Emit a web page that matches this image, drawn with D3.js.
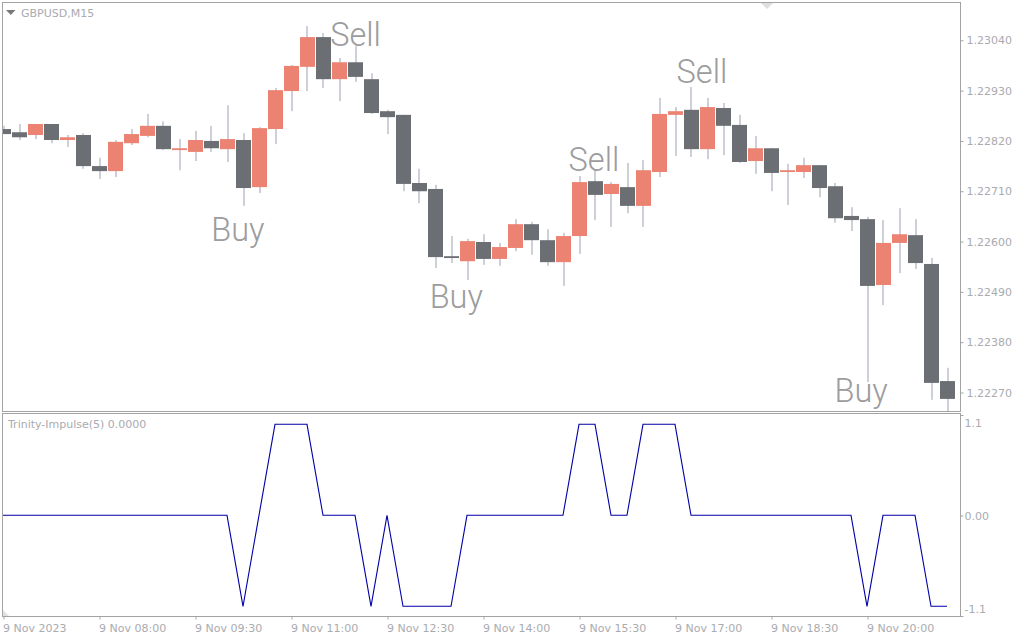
<!DOCTYPE html>
<html><head><meta charset="utf-8">
<script src="https://cdnjs.cloudflare.com/ajax/libs/d3/7.8.5/d3.min.js"></script>
<style>html,body{margin:0;padding:0;background:#fff;overflow:hidden}svg{display:block}</style>
</head><body><svg id="c" width="1024" height="640"></svg>
<script>
// prices in 1e-5 units
const opens=[122846,122839,122833,122857,122822,122833,122765,122754,122815,122831,122853,122800,122796,122820,122802,122822,122719,122846,122929,122982,123047,122955,122992,122955,122885,122877,122728,122715,122568,122557,122599,122562,122586,122638,122603,122555,122612,122732,122704,122719,122678,122752,122877,122888,122802,122892,122855,122776,122804,122752,122752,122767,122721,122656,122649,122505,122597,122614,122551,122295];
const highs=[122853,122857,122857,122857,122833,122837,122783,122822,122846,122879,122863,122824,122842,122853,122898,122837,122850,122936,122986,123071,123056,123001,123027,122968,122888,122877,122759,122724,122612,122606,122616,122597,122649,122643,122627,122619,122743,122756,122730,122772,122778,122914,122894,122938,122914,122903,122877,122831,122804,122770,122783,122767,122728,122675,122654,122647,122673,122649,122564,122324];
const lows=[122835,122822,122824,122815,122807,122759,122737,122741,122811,122828,122800,122756,122776,122796,122774,122678,122706,122813,122885,122929,122936,122907,122949,122879,122835,122710,122684,122542,122553,122516,122549,122547,122579,122571,122547,122503,122573,122647,122632,122662,122632,122741,122787,122785,122780,122789,122772,122748,122710,122680,122739,122697,122641,122623,122293,122461,122531,122540,122254,122227];
const closes=[122835,122828,122857,122822,122828,122765,122754,122818,122835,122853,122802,122804,122822,122804,122824,122717,122848,122931,122984,123047,122955,122992,122960,122881,122872,122726,122710,122566,122564,122601,122562,122588,122638,122603,122555,122612,122730,122702,122726,122678,122756,122879,122885,122802,122894,122853,122774,122804,122750,122756,122767,122717,122651,122647,122503,122597,122616,122553,122291,122256];
const impulse=[0,0,0,0,0,0,0,0,0,0,0,0,0,0,0,-1.1,0,1.1,1.1,1.1,0,0,0,-1.1,0,-1.1,-1.1,-1.1,-1.1,0,0,0,0,0,0,0,1.1,1.1,0,0,1.1,1.1,1.1,0,0,0,0,0,0,0,0,0,0,0,-1.1,0,0,0,-1.1,-1.1];
const priceTicks=[123040,122930,122820,122710,122600,122490,122380,122270];
const impulseTicks=[1.32,0,-1.32];
const impulseLabels=["1.1","0.00","-1.1"];
const timeLabels=["9 Nov 2023","9 Nov 08:00","9 Nov 09:30","9 Nov 11:00","9 Nov 12:30","9 Nov 14:00","9 Nov 15:30","9 Nov 17:00","9 Nov 18:30","9 Nov 20:00"];
const timeIndex=[0,6,12,18,24,30,36,42,48,54];
const signalText=["Sell","Sell","Sell","Buy","Buy","Buy"];
const signalBar=[22,36.9,43.65,14.65,28.3,53.6];
const signalPrice=[123028,122754,122947,122601,122455,122249];

const GREY="#a9abb0",FRAME="#a3a3a3",UP="#ec8272",DOWN="#6b6e73",WICK="#cdd0d9",LINE="#0000a8";
const FONT='"DejaVu Sans",sans-serif';
const svg=d3.select("#c");
const x=d3.scaleLinear().domain([0,59]).range([3.5,947.5]);
const y=d3.scaleLinear().domain([122270,123040]).range([392.5,40.3]);
const yi=d3.scaleLinear().domain([-1.1,1.1]).range([606.3,424.3]);
const bars=d3.range(opens.length);

svg.append("clipPath").attr("id","m").append("rect").attr("x",3).attr("y",3).attr("width",957).attr("height",408);
const gm=svg.append("g").attr("clip-path","url(#m)");
gm.selectAll("rect.w").data(bars).join("rect").attr("class","w")
 .attr("x",i=>Math.round(x(i))-1).attr("width",2).attr("y",i=>y(highs[i])).attr("height",i=>y(lows[i])-y(highs[i])).attr("fill",WICK);
gm.selectAll("rect.b").data(bars).join("rect").attr("class","b")
 .attr("x",i=>x(i)-7.5).attr("width",15)
 .attr("y",i=>y(Math.max(opens[i],closes[i])))
 .attr("height",i=>Math.max(1.5,Math.abs(y(opens[i])-y(closes[i]))))
 .attr("fill",i=>closes[i]>=opens[i]?UP:DOWN);
gm.selectAll("text.s").data(signalText).join("text").attr("class","s")
 .attr("x",(d,i)=>x(signalBar[i])).attr("y",(d,i)=>y(signalPrice[i])).attr("text-anchor","middle")
 .attr("font-family","Roboto").attr("font-weight",300).attr("font-size",32.5).attr("fill","#9c9c9e").text(d=>d);

const frame=(l,t,r,b)=>svg.append("rect").attr("x",l).attr("y",t).attr("width",r-l).attr("height",b-t).attr("fill","none").attr("stroke",FRAME).attr("stroke-width",1);
frame(2.5,2.5,960.5,411.5);
frame(2.5,413.5,960.5,616.5);

svg.append("path").datum(impulse)
 .attr("d",d3.line().x((d,i)=>x(i)-0.5).y(d=>yi(d)))
 .attr("fill","none").attr("stroke",LINE).attr("stroke-width",1.1);

function styleAxis(g){
 g.select(".domain").remove();
 g.selectAll("line").attr("stroke",FRAME);
 g.selectAll("text").attr("fill",GREY).attr("font-family",FONT).attr("font-size",11);
}
const ga=svg.append("g").attr("transform","translate(960.5,0)")
 .call(d3.axisRight(y).tickValues(priceTicks).tickSize(3).tickPadding(3).tickFormat(d=>(d/100000).toFixed(5))).call(styleAxis);
ga.selectAll("text").attr("dy","0.32em");
// the tick marks of the indicator axis sit on the panel edges; labels are pulled inward
const yiAxis=d3.scaleLinear().domain([-1.32,1.32]).range([616,415]);
const gi=svg.append("g").attr("transform","translate(960.5,0)")
 .call(d3.axisRight(yiAxis).tickValues(impulseTicks).tickSize(3).tickPadding(1).tickFormat((d,i)=>impulseLabels[i])).call(styleAxis);
gi.selectAll("text").attr("dy",(d,i)=>[11.5,4,-4][i]);
const gx=svg.append("g").attr("transform","translate(0,616.5)")
 .call(d3.axisBottom(x).tickValues(timeIndex).tickSize(3).tickPadding(5).tickFormat((d,i)=>timeLabels[i])).call(styleAxis);
gx.selectAll("text").attr("text-anchor","start").attr("dx",-1);

svg.append("text").attr("x",21).attr("y",17).attr("font-family",FONT).attr("font-size",11).attr("fill",GREY).text("GBPUSD,M15");
svg.append("text").attr("x",8).attr("y",428).attr("font-family",FONT).attr("font-size",11).attr("fill",GREY).text("Trinity-Impulse(5) 0.0000");
const tri=(p,c)=>svg.append("path").attr("d",d3.line()(p)+"Z").attr("fill",c);
tri([[6,10],[15.5,10],[10.75,15]],"#77787c");
tri([[761,3],[773,3],[767,9]],"#dedede");
tri([[3,610],[3,616],[9,616]],"#e2e2e2");
</script></body></html>
